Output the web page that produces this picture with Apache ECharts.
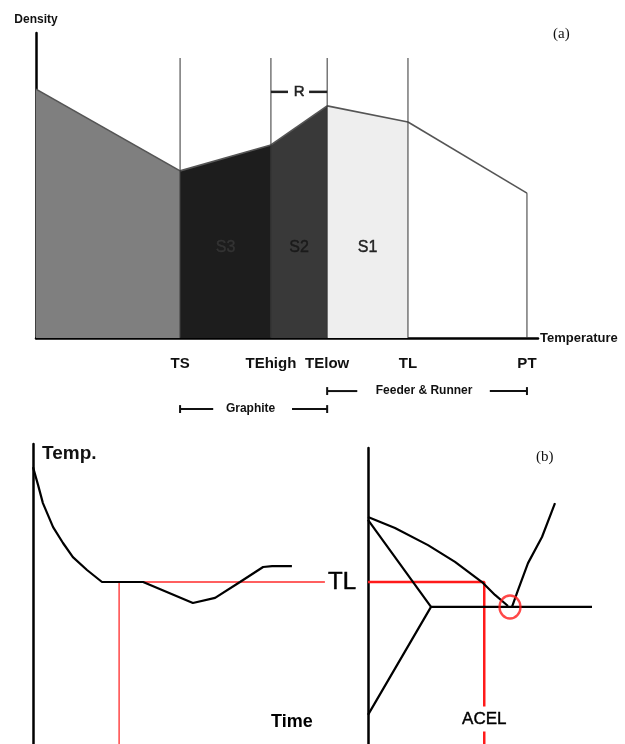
<!DOCTYPE html>
<html><head><meta charset="utf-8">
<script src="https://cdn.jsdelivr.net/npm/echarts@6/dist/echarts.min.js"></script>
<style>html,body{margin:0;padding:0;background:#fff}#c{width:625px;height:744px}</style>
</head><body><div id="c"></div>
<script>
// ---------- Panel (a): density vs temperature (schematic units) ----------
const tempNames = ['TS', 'TEhigh', 'TElow', 'TL', 'PT'];
const tempValues = [28.7, 46.8, 58.0, 74.1, 97.8];
const densityStart = 81.6;                 // density at T = 0 (left edge)
const densityValues = [54.8, 63.3, 76.1, 70.8, 47.5];
const stageNames = ['S3', 'S2', 'S1'];     // between TS..TEhigh, TEhigh..TElow, TElow..TL
const guideTop = 91.8;

// ---------- Panel (b) left: cooling curve ----------
const coolTime = [0, 1.7, 3.3, 6.7, 10, 13.3, 18, 23, 36.7, 53.3, 60.7, 69, 76.7, 79.7, 86.3];
const coolTemp = [92.3, 86.3, 80.3, 72.3, 67, 62.3, 58, 54, 54, 47, 48.7, 54, 59, 59.3, 59.3];
const tlLevel = 54;
const tlTime = 28.7;

// ---------- Panel (b) right: phase diagram ----------
const liqComp = [0, 10.8, 24, 34.8, 46, 50.8, 56];
const liqTemp = [75.7, 72, 66.3, 60.7, 53.7, 49.7, 46];
const solComp = [0, 25.2, 0];
const solTemp = [74.7, 45.7, 9.7];
const eutecticTemp = 45.7;
const eutecticComp = [25.2, 89.6];
const grComp = [57.6, 60, 64, 69.6, 74.8];
const grTemp = [45.7, 51.3, 60.3, 69, 80.3];
const acelComp = 46.5;
const eutecticPointComp = 56.8;

const SANS = "'Liberation Sans', Arial, sans-serif";
const SERIF = "'Liberation Serif', 'Times New Roman', serif";

const series = [];
function seg(name, pts, opts, xi) {
  series.push(Object.assign({
    type: 'line', name: name, data: pts, xAxisIndex: xi, yAxisIndex: xi,
    symbol: 'none', silent: true, clip: false, animation: false
  }, opts));
}
function label(text, x, y, xi, style) {
  series.push({
    type: 'scatter', name: 'lbl-' + text, xAxisIndex: xi, yAxisIndex: xi,
    data: [[x, y]], symbolSize: 0.1, itemStyle: { color: '#000', opacity: 1 },
    silent: true, clip: false, z: 10, animation: false,
    label: Object.assign({ show: true, position: 'inside', formatter: () => text,
      color: '#000', fontFamily: SANS, textBorderWidth: 0, textShadowBlur: 0 }, style)
  });
}

// ----- (a) filled profile segments -----
const fills = ['#7f7f7f', '#1d1d1d', '#393939', '#eeeeee', null];
let prev = [0, densityStart];
tempValues.forEach((t, i) => {
  const p = [t, densityValues[i]];
  const o = { lineStyle: { color: '#555', width: 1.6 }, z: 2 };
  if (fills[i]) o.areaStyle = { color: fills[i], opacity: 1 };
  seg('profile' + i, [prev, p], o, 0);
  prev = p;
});
// vertical guides
tempValues.forEach((t, i) => {
  const top = i === tempValues.length - 1 ? densityValues[i] : guideTop;
  seg('guide' + i, [[t, 0], [t, top]], { lineStyle: { color: '#333', width: 1 }, z: 3 }, 0);
});
// R bracket between TEhigh and TElow
const rY = 80.7;
seg('r1', [[tempValues[1], rY], [tempValues[1] + 3.4, rY]], { lineStyle: { color: '#222', width: 2.5 }, z: 4 }, 0);
seg('r2', [[tempValues[2] - 3.6, rY], [tempValues[2], rY]], { lineStyle: { color: '#222', width: 2.5 }, z: 4 }, 0);
label('R', (tempValues[1] + tempValues[2]) / 2, rY, 0, { fontSize: 15, color: '#222', textBorderColor: '#222', textBorderWidth: 0.5 });
// stage labels
const stageColors = ['#333', '#1a1a1a', '#222'];
stageNames.forEach((s, i) => {
  label(s, (tempValues[i] + tempValues[i + 1]) / 2, 29.5, 0,
    { fontSize: 16, color: stageColors[i], textBorderColor: stageColors[i], textBorderWidth: 0.4 });
});
// range brackets under the axis
function bracket(text, a, b, y, leftLen, rightLen) {
  const tk = 1.3, st = { lineStyle: { color: '#111', width: 2 }, z: 4 };
  seg(text + 'L', [[a, y], [a + leftLen, y]], st, 0);
  seg(text + 'R', [[b - rightLen, y], [b, y]], st, 0);
  seg(text + 'tL', [[a, y - tk], [a, y + tk]], st, 0);
  seg(text + 'tR', [[b, y - tk], [b, y + tk]], st, 0);
  label(text, (a + b) / 2 - 0.6, y, 0, { fontSize: 12, fontWeight: 'bold', color: '#111' });
}
bracket('Feeder & Runner', tempValues[2], tempValues[4], -17.4, 6, 7.4);
bracket('Graphite', tempValues[0], tempValues[2], -23.3, 6.6, 7);

// ----- (b) left: cooling curve -----
seg('cooling', coolTime.map((t, i) => [t, coolTemp[i]]), { lineStyle: { color: '#000', width: 2.2 }, z: 5 }, 1);
seg('tlH', [[coolTime[8], tlLevel], [97.3, tlLevel]], { lineStyle: { color: '#ff2a2a', width: 1.3 }, z: 4 }, 1);
seg('tlV', [[tlTime, tlLevel], [tlTime, 0]], { lineStyle: { color: '#ff2a2a', width: 1.3 }, z: 4 }, 1);
label('TL', 103, tlLevel, 1, { fontSize: 24, color: '#000', textBorderColor: '#000', textBorderWidth: 0.5 });
label('Time', 86.3, 7.3, 1, { fontSize: 18, fontWeight: 'bold', color: '#000' });

// ----- (b) right: phase diagram -----
const blk = { lineStyle: { color: '#000', width: 2.2 }, z: 5 };
seg('liquidus', liqComp.map((c, i) => [c, liqTemp[i]]), blk, 2);
seg('solidus', solComp.map((c, i) => [c, solTemp[i]]), blk, 2);
seg('eutectic', eutecticComp.map(c => [c, eutecticTemp]), blk, 2);
seg('graphiteLiq', grComp.map((c, i) => [c, grTemp[i]]), blk, 2);
seg('acel', [[0, tlLevel], [acelComp, tlLevel], [acelComp, 0]], { lineStyle: { color: '#ff1a1a', width: 2.5 }, z: 4 }, 2);
label('ACEL', acelComp, 8.3, 2, { fontSize: 17, color: '#000', textBorderColor: '#000', textBorderWidth: 0.4,
  backgroundColor: '#fff', padding: [4, 1, 4, 1] });
series.push({
  type: 'scatter', name: 'eutecticPoint', xAxisIndex: 2, yAxisIndex: 2,
  data: [[eutecticPointComp, eutecticTemp]], symbol: 'circle', symbolSize: [21, 23],
  itemStyle: { color: 'rgba(0,0,0,0)', borderColor: '#ff1a1a', borderWidth: 2.4 },
  silent: true, z: 8, animation: false
});

const hiddenX = (max) => ({ type: 'value', min: 0, max: max, show: false });
const axisY = (idx, max, extra) => Object.assign({
  type: 'value', gridIndex: idx, min: 0, max: max,
  axisLine: { show: true, onZero: false, lineStyle: { color: '#000', width: 2.5 } },
  axisTick: { show: false }, axisLabel: { show: false }, splitLine: { show: false }
}, extra);

const option = {
  animation: false,
  backgroundColor: '#fff',
  title: [
    { text: '(a)', left: 548, top: 22, textStyle: { fontFamily: SERIF, fontWeight: 'normal', fontSize: 15, color: '#111' } },
    { text: '(b)', left: 531, top: 445, textStyle: { fontFamily: SERIF, fontWeight: 'normal', fontSize: 15, color: '#111' } }
  ],
  grid: [
    { left: 36, top: 33, width: 502, height: 305 },
    { left: 33, top: 444, width: 300, height: 300 },
    { left: 368, top: 448, width: 250, height: 296 }
  ],
  xAxis: [
    {
      type: 'value', gridIndex: 0, min: 0, max: 100,
      name: 'Temperature', nameLocation: 'end', nameGap: 2,
      nameTextStyle: { fontFamily: SANS, fontSize: 13, fontWeight: 'bold', color: '#111', padding: [0, 0, 5, 0] },
      axisLine: { show: true, onZero: false, lineStyle: { color: '#000', width: 2.5 } },
      axisTick: { show: false }, splitLine: { show: false },
      axisLabel: {
        customValues: tempValues, margin: 18,
        formatter: (v) => {
          let k = 0;
          tempValues.forEach((t, i) => { if (Math.abs(t - v) < Math.abs(tempValues[k] - v)) k = i; });
          return tempNames[k];
        },
        fontFamily: SANS, fontSize: 15, fontWeight: 'bold', color: '#111'
      }
    },
    Object.assign(hiddenX(100), { gridIndex: 1 }),
    Object.assign(hiddenX(100), { gridIndex: 2 })
  ],
  yAxis: [
    axisY(0, 100, {
      name: 'Density', nameLocation: 'end', nameGap: 7,
      nameTextStyle: { fontFamily: SANS, fontSize: 12, fontWeight: 'bold', color: '#111' }
    }),
    axisY(1, 100, {
      name: 'Temp.', nameLocation: 'end', nameGap: -10,
      nameTextStyle: { fontFamily: SANS, fontSize: 19, fontWeight: 'bold', color: '#111',
        align: 'left', verticalAlign: 'middle', padding: [0, 0, 0, 9] }
    }),
    axisY(2, 98.67, {})
  ],
  series: series
};

const chart = echarts.init(document.getElementById('c'));
chart.setOption(option);
</script>
</body></html>
